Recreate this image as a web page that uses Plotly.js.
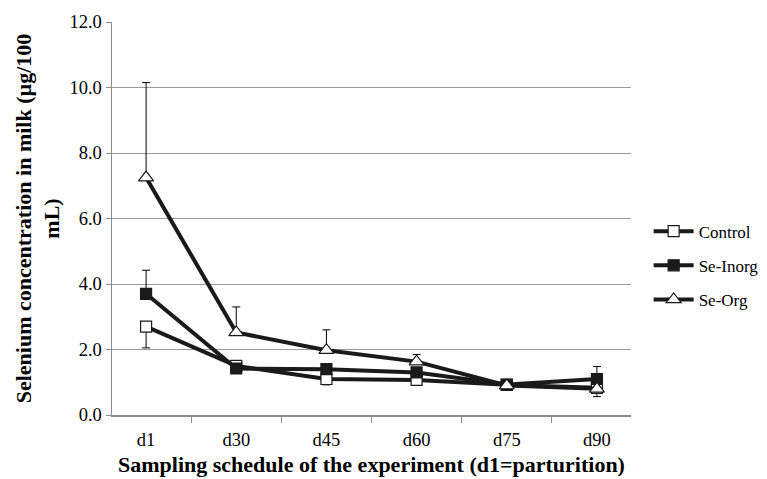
<!DOCTYPE html>
<html>
<head>
<meta charset="utf-8">
<script src="https://cdn.plot.ly/plotly-3.0.1.min.js"></script>
<style>html,body{margin:0;padding:0;background:#fff;}#chart{width:767px;height:479px;}</style>
</head>
<body>
<div id="chart"></div>
<script>
const categories = ['d1', 'd30', 'd45', 'd60', 'd75', 'd90'];
const control = [2.70, 1.50, 1.10, 1.07, 0.92, 0.83];
const controlErrMinus = [0.65, 0.10, 0.18, 0.15, 0.05, 0.27];
const seInorg = [3.70, 1.42, 1.40, 1.30, 0.93, 1.10];
const seInorgErrPlus = [0.72, 0.05, 0.10, 0.10, 0.05, 0.38];
const seOrg = [7.25, 2.52, 1.98, 1.63, 0.90, 0.80];
const seOrgErrPlus = [2.90, 0.78, 0.62, 0.22, 0.05, 0.05];
const seriesNames = ['Control', 'Se-Inorg', 'Se-Org'];

const zeros = categories.map(() => 0);
const errStyle = {color: '#000', thickness: 1, width: 4, symmetric: false, type: 'data'};

const traces = [
  {x: categories, y: control, name: seriesNames[0], legendgroup: 'a', mode: 'lines+markers',
   line: {color: '#1a1a1a', width: 4},
   marker: {symbol: 'square', size: 11, color: '#fff', line: {color: '#1a1a1a', width: 1.2}},
   error_y: Object.assign({array: zeros, arrayminus: controlErrMinus}, errStyle)},
  {x: categories, y: seInorg, name: seriesNames[1], legendgroup: 'b', mode: 'lines+markers',
   line: {color: '#1a1a1a', width: 4},
   marker: {symbol: 'square', size: 11, color: '#1a1a1a', line: {color: '#1a1a1a', width: 1.2}},
   error_y: Object.assign({array: seInorgErrPlus, arrayminus: zeros}, errStyle)},
  {x: categories, y: seOrg, name: seriesNames[2], legendgroup: 'c', mode: 'lines+markers',
   line: {color: '#1a1a1a', width: 4},
   marker: {symbol: 'triangle-up', size: 13, color: '#fff', line: {color: '#1a1a1a', width: 1.2}},
   error_y: Object.assign({array: seOrgErrPlus, arrayminus: zeros}, errStyle)}
];

const FAM = '"Liberation Serif", "Times New Roman", serif';

const layout = {
  width: 767, height: 479,
  paper_bgcolor: '#fff', plot_bgcolor: '#fff',
  margin: {l: 112, r: 136, t: 22, b: 64, autoexpand: false},
  font: {family: FAM, size: 18, color: '#000'},
  showlegend: true,
  legend: {x: 1.034, y: 0.38, xanchor: 'left', yanchor: 'middle',
           font: {family: FAM, size: 17, color: '#000'}, itemwidth: 40, tracegroupgap: 9,
           bgcolor: 'rgba(0,0,0,0)'},
  xaxis: {
    type: 'category', showgrid: false, showline: true, linecolor: '#8c8c8c', linewidth: 1.5,
    ticks: 'outside', tickson: 'boundaries', ticklen: 6, tickcolor: '#8c8c8c',
    ticklabelstandoff: 7,
    tickfont: {family: FAM, size: 18.5, color: '#000'},
    title: {text: '<b>Sampling schedule of the experiment (d1=parturition)</b>',
            font: {family: FAM, size: 22, color: '#000'}, standoff: 8},
    zeroline: false
  },
  yaxis: {
    range: [0, 12], dtick: 2, tickformat: '.1f',
    showgrid: true, gridcolor: '#9a9a9a', gridwidth: 1,
    showline: true, linecolor: '#8c8c8c', linewidth: 1.5,
    ticks: 'outside', ticklen: 5, tickcolor: '#8c8c8c',
    tickfont: {family: FAM, size: 18.5, color: '#000'},
    title: {text: '<b>Selenium concentration in milk (µg/100<br>mL)</b>',
            font: {family: FAM, size: 22, color: '#000'}, standoff: 3},
    zeroline: false
  }
};

Plotly.newPlot('chart', traces, layout, {displayModeBar: false, staticPlot: true});
</script>
</body>
</html>
